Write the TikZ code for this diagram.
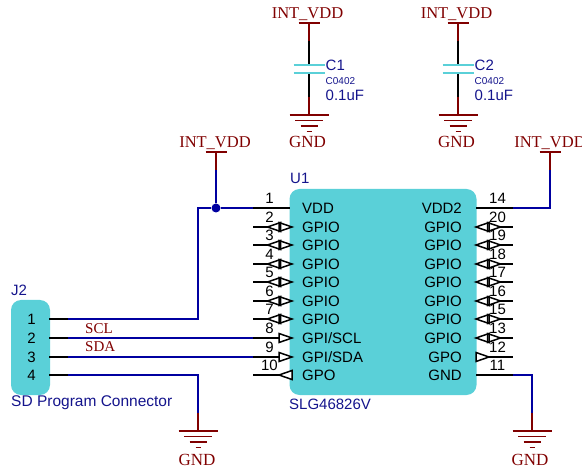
\documentclass[tikz,border=0pt]{standalone}
\usepackage{fontspec}
\setmainfont{Liberation Sans}
\newfontfamily\netfont{Liberation Serif}
\usepackage{tikz}
\definecolor{chipcyan}{RGB}{90,208,216}
\definecolor{netblue}{RGB}{0,0,160}
\definecolor{pwrred}{RGB}{128,0,0}
\definecolor{refblue}{RGB}{20,20,140}
\tikzset{
  chipbox/.style={fill=chipcyan,rounded corners=10pt,inner sep=0pt},
  pinline/.style={black,line width=1.7pt},
  netline/.style={netblue,line width=1.7pt},
  pwrline/.style={pwrred,line width=1.7pt},
  pintext/.style={inner sep=0pt,font=\fontsize{15}{15}\selectfont},
  reftext/.style={inner sep=0pt,text=refblue,font=\fontsize{15}{15}\selectfont},
  nettext/.style={inner sep=0pt,text=pwrred,font=\netfont\fontsize{16.5}{16.5}\selectfont},
  gndtext/.style={inner sep=0pt,text=pwrred,font=\netfont\fontsize{17}{17}\selectfont},
  sigtext/.style={inner sep=0pt,text=pwrred,font=\netfont\fontsize{15}{15}\selectfont},
  tri/.style={black,fill=white,line width=1.5pt,line join=miter},
  gnd/.pic={
    \draw[pwrline] (-19.5,0) -- (19.5,0);
    \draw[pwrline] (-14,5.5) -- (14,5.5);
    \draw[pwrline] (-8.5,11) -- (8.5,11);
    \draw[pwrline] (-2.5,16.5) -- (2.5,16.5);
  },
  trioutl/.pic={\draw[tri] (0,0) -- (13,-4.5) -- (13,4.5) -- cycle;},
  trioutr/.pic={\draw[tri] (0,0) -- (-13,-4.5) -- (-13,4.5) -- cycle;},
  % both marks of a two-way pin, tips 24.5 apart, outlines on top of the fills
  bidir/.pic={
    \fill[white] (0,0) -- (13,-4.5) -- (13,4.5) -- cycle;
    \fill[white] (24.5,0) -- (11.5,-4.5) -- (11.5,4.5) -- cycle;
    \draw[tri,fill=none] (0,0) -- (13,-4.5) -- (13,4.5) -- cycle;
    \draw[tri,fill=none] (24.5,0) -- (11.5,-4.5) -- (11.5,4.5) -- cycle;
  },
}
\begin{document}
\begin{tikzpicture}[x=1pt,y=-1pt]
  \useasboundingbox (0,0) rectangle (582,468);
  % chip and connector bodies
  \node[chipbox,minimum width=187pt,minimum height=206pt] (U1) at (383,292) {};
  \node[chipbox,minimum width=39pt,minimum height=95pt] (J2) at (30.5,347.5) {};
  \node[reftext,anchor=west] (U1ref) at (290,178) {U1};
  \node[reftext,anchor=west] (U1val) at (289,404) {SLG46826V};
  \node[reftext,anchor=west] (J2ref) at (11,290) {J2};
  \node[reftext,anchor=west,font=\fontsize{15.5}{15.5}\selectfont] (J2val) at (11,403) {SD Program Connector};
  % left pins of U1
  \foreach \n/\y/\lbl in {1/208/VDD,2/227/GPIO,3/245/GPIO,4/264/GPIO,5/282/GPIO,6/301/GPIO,7/319/GPIO,8/338/GPI\slash SCL,9/357/GPI\slash SDA,10/375/GPO}{
    \coordinate (Lin\n) at (290,\y);
    \coordinate (Lout\n) at (253,\y);
    \draw[pinline] (Lout\n) -- (Lin\n);
    \node[pintext,anchor=west] (Lname\n) at (302,\y) {\lbl};
  }
  % right pins of U1
  \foreach \n/\y/\lbl in {14/208/VDD2,20/227/GPIO,19/245/GPIO,18/264/GPIO,17/282/GPIO,16/301/GPIO,15/319/GPIO,13/338/GPIO,12/357/GPO,11/375/GND}{
    \coordinate (Rin\n) at (476,\y);
    \coordinate (Rout\n) at (513,\y);
    \draw[pinline] (Rin\n) -- (Rout\n);
    \node[pintext,anchor=east] (Rname\n) at (462,\y) {\lbl};
  }
  % pin direction marks
  \foreach \y in {227,245,264,282,301,319}{
    \pic at (267.5,\y) {bidir};
  }
  \foreach \y in {227,245,264,282,301,319,338}{
    \pic at (476,\y) {bidir};
  }
  \pic at (292,338) {trioutr};
  \pic at (292,357) {trioutr};
  \pic at (279,375) {trioutl};
  \pic at (489,357) {trioutr};
  % pin numbers go over the marks
  \foreach \n/\y in {1/208,2/227,3/245,4/264,5/282,6/301,7/319,8/338,9/357,10/375}{
    \node[pintext] (Lnum\n) at (269.5,\y-9.5) {\n};
  }
  \foreach \n/\y in {14/208,20/227,19/245,18/264,17/282,16/301,15/319,13/338,12/357,11/375}{
    \node[pintext] (Rnum\n) at (497.5,\y-9.5) {\n};
  }
  % pins and names of J2
  \foreach \n/\y in {1/319,2/338,3/357,4/375}{
    \coordinate (Jin\n) at (49,\y);
    \coordinate (Jout\n) at (68,\y);
    \draw[pinline] (Jin\n) -- (Jout\n);
    \node[pintext] (Jnum\n) at (31.5,\y) {\n};
  }
  % nets
  \node[circle,fill=netblue,inner sep=0pt,minimum size=9pt] (dot) at (216,208) {};
  \coordinate (bendA) at (198,208);
  \coordinate (vddA) at (216,152);
  \coordinate (vddAb) at (216,170);
  \coordinate (vddB) at (550,152);
  \coordinate (vddBb) at (550,170);
  \coordinate (gndA) at (198,431);
  \coordinate (gndAb) at (198,413);
  \coordinate (gndB) at (532,431);
  \coordinate (gndBb) at (532,413);
  \draw[netline] (Jout1) -| (bendA) -- (dot) -- (Lout1);
  \draw[netline] (dot) -- (vddAb);
  \draw[netline] (Jout2) -- (Lout8);
  \draw[netline] (Jout3) -- (Lout9);
  \draw[netline] (Jout4) -| (gndAb);
  \draw[pwrline] (gndAb) -- (gndA);
  \draw[netline] (Rout14) -| (vddBb);
  \draw[pwrline] (vddBb) -- (vddB);
  \draw[netline] (Rout11) -| (gndBb);
  \draw[pwrline] (gndBb) -- (gndB);
  \draw[pwrline] (vddAb) -- (vddA);
  \node[sigtext,anchor=west] (scl) at (85,329) {SCL};
  \node[sigtext,anchor=west] (sda) at (85,347) {SDA};
  % power symbols on the nets
  \draw[pwrline] (205.5,152) -- (226.5,152);
  \draw[pwrline] (539.5,152) -- (560.5,152);
  \node[nettext] (vddAt) at (215,143) {INT\_VDD};
  \node[nettext] (vddBt) at (550,143) {INT\_VDD};
  \pic at (gndA) {gnd};
  \pic at (gndB) {gnd};
  \node[gndtext] (gndAt) at (197,459.5) {GND};
  \node[gndtext] (gndBt) at (530,459.5) {GND};
  % decoupling capacitors
  \foreach \c/\x in {1/309,2/458}{
    \begin{scope}[shift={(\x,0)}]
      \coordinate (Ctop\c) at (0,23);
      \coordinate (Ca\c) at (0,41);
      \coordinate (Cp\c) at (0,65);
      \coordinate (Cq\c) at (0,73);
      \coordinate (Cb\c) at (0,97);
      \coordinate (Cbot\c) at (0,115);
      \draw[pwrline] (-10.5,23) -- (10.5,23);
      \draw[pwrline] (Ctop\c) -- (Ca\c);
      \draw[pinline] (Ca\c) -- (Cp\c);
      \draw[pinline] (Cq\c) -- (Cb\c);
      \draw[pwrline] (Cb\c) -- (Cbot\c);
      \draw[chipcyan,line width=1.7pt] (-15.5,65) -- (16,65);
      \draw[chipcyan,line width=1.7pt] (-15.5,73) -- (16,73);
      \pic at (Cbot\c) {gnd};
      \node[nettext] (Cvdd\c) at (-1.5,14) {INT\_VDD};
      \node[gndtext] (Cgnd\c) at (-1.5,141.5) {GND};
      \node[reftext,anchor=west] (Cref\c) at (16.5,65) {C\c};
      \node[reftext,anchor=west,font=\fontsize{10}{10}\selectfont] (Cpkg\c) at (16.5,81) {C0402};
      \node[reftext,anchor=west] (Cval\c) at (16.5,95) {0.1uF};
    \end{scope}
  }
\end{tikzpicture}
\end{document}
